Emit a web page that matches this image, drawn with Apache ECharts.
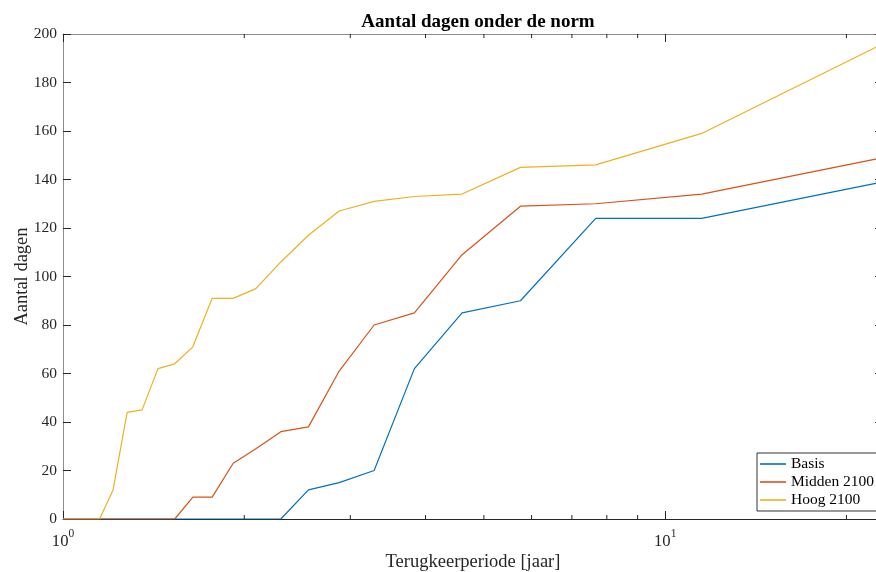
<!DOCTYPE html>
<html>
<head>
<meta charset="utf-8">
<title>Aantal dagen onder de norm</title>
<script src="https://cdn.jsdelivr.net/npm/echarts@6/dist/echarts.min.js"></script>
<style>
  html, body { margin: 0; padding: 0; background: #fff; overflow: hidden; }
  #chart { width: 884px; height: 572px; }
</style>
</head>
<body>
<div id="chart"></div>
<script>
// Terugkeerperiode (jaar) per rangnummer
const returnPeriod = [1.000, 1.045, 1.095, 1.150, 1.211, 1.278, 1.353, 1.438, 1.533, 1.643, 1.769, 1.917,
                      2.091, 2.300, 2.556, 2.875, 3.286, 3.833, 4.600, 5.750, 7.667, 11.500, 23.000];
// Aantal dagen onder de norm per scenario
const basis   = [0, 0, 0, 0, 0, 0, 0, 0, 0, 0, 0, 0, 0, 0, 12, 15, 20, 62, 85, 90, 124, 124, 139];
const midden  = [0, 0, 0, 0, 0, 0, 0, 0, 0, 9, 9, 23, 29, 36, 38, 61, 80, 85, 109, 129, 130, 134, 149];
const hoog    = [0, 0, 0, 0, 12, 44, 45, 62, 64, 71, 91, 91, 95, 106, 117, 127, 131, 133, 134, 145, 146, 159, 196];
const seriesNames = ['Basis', 'Midden 2100', 'Hoog 2100'];
// Tussenliggende streepjes op de logaritmische as
const minorTicks = [2, 3, 4, 5, 6, 7, 8, 9, 20];

const FONT = '"Liberation Serif", "Times New Roman", serif';
const INK = '#262626';
const COLORS = ['#0072BD', '#D95319', '#EDB120'];

const pairs = vals => returnPeriod.map((x, i) => [x, vals[i]]);

const chart = echarts.init(document.getElementById('chart'), null, { renderer: 'canvas' });

function logLabel(v) {
  const e = Math.log10(v);
  if (Math.abs(e - Math.round(e)) > 1e-6) return '';
  return '{b|10}{s|' + Math.round(e) + '}';
}

function minorTickItem(params, api) {
  const v = api.value(0);
  const bottom = api.coord([v, 0]);
  const top = api.coord([v, 200]);
  const style = { stroke: INK, lineWidth: 1 };
  return {
    type: 'group',
    children: [
      { type: 'line', shape: { x1: bottom[0], y1: bottom[1], x2: bottom[0], y2: bottom[1] - 4 }, style },
      { type: 'line', shape: { x1: top[0], y1: top[1], x2: top[0], y2: top[1] + 4 }, style }
    ]
  };
}

const lineSeries = [basis, midden, hoog].map((vals, i) => ({
  name: seriesNames[i],
  type: 'line',
  data: pairs(vals),
  symbol: 'none',
  showSymbol: false,
  smooth: false,
  lineStyle: { color: COLORS[i], width: 1.2 },
  itemStyle: { color: COLORS[i] },
  emphasis: { disabled: true },
  animation: false,
  z: 3 + i
}));

chart.setOption({
  animation: false,
  backgroundColor: '#fff',
  title: {
    text: 'Aantal dagen onder de norm',
    left: 473,
    textAlign: 'center',
    top: 8,
    textStyle: { fontFamily: FONT, fontWeight: 'bold', fontSize: 19, color: '#000' }
  },
  grid: { left: 63, top: 34, width: 820, height: 485, outerBoundsMode: 'none', containLabel: false },
  legend: {
    data: seriesNames,
    orient: 'vertical',
    left: 757,
    top: 453,
    padding: [2, 6, 2, 3],
    itemGap: 0,
    itemWidth: 26,
    itemHeight: 1.6,
    icon: 'rect',
    backgroundColor: '#fff',
    borderColor: '#333',
    borderWidth: 1,
    borderRadius: 0,
    selectedMode: false,
    textStyle: { fontFamily: FONT, fontSize: 15.5, color: '#000', lineHeight: 18, padding: [0, 0, 0, 0] }
  },
  xAxis: [
    {
      type: 'log',
      logBase: 10,
      min: 1,
      max: 23,
      position: 'bottom',
      name: 'Terugkeerperiode [jaar]',
      nameLocation: 'middle',
      nameGap: 34,
      nameMoveOverlap: false,
      nameTextStyle: { fontFamily: FONT, fontSize: 18.5, color: INK },
      axisLine: { show: true, onZero: false, lineStyle: { color: INK, width: 1 } },
      axisTick: { show: true, inside: true, length: 8, lineStyle: { color: INK } },
      axisLabel: {
        margin: 9,
        formatter: logLabel,
        showMinLabel: true,
        showMaxLabel: false,
        rich: {
          b: { fontFamily: FONT, fontSize: 16.7, color: INK, lineHeight: 22, verticalAlign: 'bottom' },
          s: { fontFamily: FONT, fontSize: 11.5, color: INK, lineHeight: 11, verticalAlign: 'top' }
        }
      },
      splitLine: { show: false },
      minorTick: { show: false }
    },
    {
      type: 'log',
      logBase: 10,
      min: 1,
      max: 23,
      position: 'top',
      axisLine: { show: true, onZero: false, lineStyle: { color: '#8c8c8c', width: 1 } },
      axisTick: { show: true, inside: true, length: 8, lineStyle: { color: INK } },
      axisLabel: { show: false },
      splitLine: { show: false }
    }
  ],
  yAxis: [
    {
      type: 'value',
      min: 0,
      max: 200,
      interval: 20,
      position: 'left',
      name: 'Aantal dagen',
      nameLocation: 'middle',
      nameGap: 31,
      nameMoveOverlap: false,
      nameRotate: 90,
      nameTextStyle: { fontFamily: FONT, fontSize: 18.5, color: INK },
      axisLine: { show: true, onZero: false, lineStyle: { color: '#8c8c8c', width: 1 } },
      axisTick: { show: true, inside: true, length: 8, lineStyle: { color: INK } },
      axisLabel: { margin: 6, fontFamily: FONT, fontSize: 15.5, color: INK },
      splitLine: { show: false }
    },
    {
      type: 'value',
      min: 0,
      max: 200,
      interval: 20,
      position: 'right',
      axisLine: { show: true, onZero: false, lineStyle: { color: '#8c8c8c', width: 1 } },
      axisTick: { show: true, inside: true, length: 8, lineStyle: { color: INK } },
      axisLabel: { show: false },
      splitLine: { show: false }
    }
  ],
  series: [
    ...lineSeries,
    {
      type: 'custom',
      name: 'minor',
      data: minorTicks.map(v => [v]),
      renderItem: minorTickItem,
      clip: false,
      silent: true,
      animation: false,
      z: 10
    }
  ]
});
</script>
</body>
</html>
